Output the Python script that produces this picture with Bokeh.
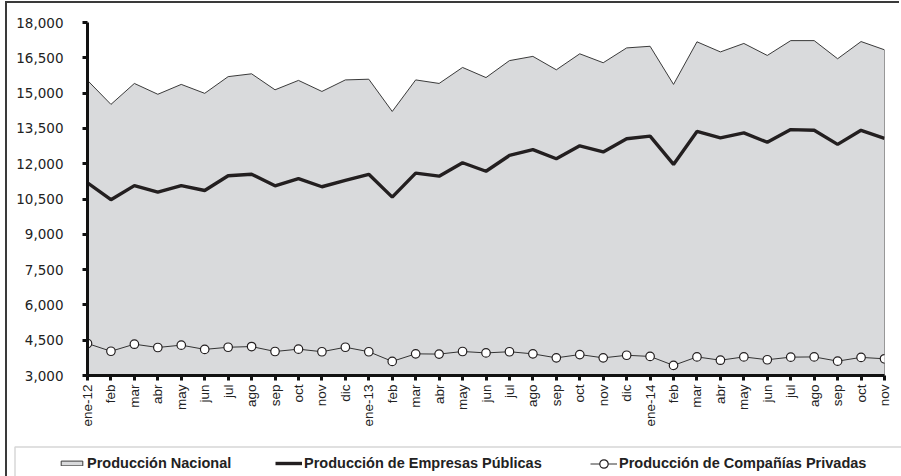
from bokeh.plotting import figure
from bokeh.models import (Range1d, FixedTicker, NumeralTickFormatter, Legend, LegendItem,
                          BoxAnnotation)
from bokeh.embed import file_html
from bokeh.resources import INLINE
import math

months = ["ene-12", "feb", "mar", "abr", "may", "jun", "jul", "ago", "sep", "oct", "nov", "dic",
          "ene-13", "feb", "mar", "abr", "may", "jun", "jul", "ago", "sep", "oct", "nov", "dic",
          "ene-14", "feb", "mar", "abr", "may", "jun", "jul", "ago", "sep", "oct", "nov"]

nacional = [15540, 14520, 15410, 14950, 15370, 14990, 15700, 15820, 15140, 15540, 15070, 15560,
            15590, 14220, 15560, 15410, 16090, 15660, 16380, 16560, 15990, 16670, 16290, 16920,
            16990, 15370, 17180, 16750, 17110, 16600, 17230, 17230, 16460, 17190, 16840]

publicas = [11190, 10470, 11070, 10790, 11070, 10860, 11490, 11550, 11060, 11370, 11020, 11290,
            11550, 10580, 11600, 11470, 12040, 11680, 12350, 12600, 12210, 12760, 12500, 13060,
            13170, 11970, 13370, 13100, 13310, 12910, 13450, 13420, 12820, 13420, 13080]

privadas = [4360, 4030, 4330, 4190, 4290, 4110, 4200, 4230, 4020, 4120, 4010, 4200,
            4010, 3600, 3920, 3910, 4020, 3960, 4010, 3920, 3750, 3890, 3750, 3860,
            3810, 3430, 3790, 3650, 3790, 3670, 3780, 3790, 3610, 3770, 3710]

y_ticks = [3000, 4500, 6000, 7500, 9000, 10500, 12000, 13500, 15000, 16500, 18000]
y_min, y_max = 3000, 18000

series_names = ["Producción Nacional", "Producción de Empresas Públicas",
                "Producción de Compañías Privadas"]

AREA_FILL = "#d9dadc"
AREA_LINE = "#3a3a3a"
PUB_COLOR = "#231f20"
PRIV_LINE = "#333333"
EDGE = "#3a3a3a"

x = list(range(len(months)))
area_x = x + [x[-1], x[0]]
area_y = nacional + [y_min, y_min]

W = 894
# ---------------- chart ----------------
p = figure(width=W, height=440, output_backend="svg", toolbar_location=None,
           x_range=Range1d(0, len(months) - 1), y_range=Range1d(y_min, y_max),
           min_border_left=80, min_border_right=17, min_border_top=19, min_border_bottom=68,
           styles={"margin-left": "7px", "margin-top": "3px",
                   "box-shadow": f"-2px -2px 0 0 {EDGE}, -2px 0 0 0 {EDGE}"})
p.outline_line_color = None
p.xgrid.visible = False
p.ygrid.visible = False
p.background_fill_color = "white"
p.border_fill_color = "white"

p.patch(area_x, area_y, fill_color=AREA_FILL, line_color=AREA_LINE, line_width=1)
p.line(x, publicas, line_color=PUB_COLOR, line_width=3.4)
p.line(x, privadas, line_color=PRIV_LINE, line_width=1)
p.scatter(x, privadas, size=8.5, marker="circle", fill_color="white",
          line_color=PUB_COLOR, line_width=1.2)

for ax in (p.xaxis[0], p.yaxis[0]):
    ax.axis_line_width = 3
    ax.axis_line_color = "#111111"
    ax.major_tick_line_width = 3
    ax.major_tick_line_color = "#111111"
    ax.major_tick_out = 5
    ax.major_tick_in = 0
    ax.minor_tick_line_color = None
    ax.major_label_text_color = "#222222"

p.yaxis.ticker = FixedTicker(ticks=y_ticks)
p.yaxis.formatter = NumeralTickFormatter(format="0,0")
p.yaxis.major_label_text_font = "DejaVu Sans"
p.yaxis.major_label_text_font_size = "13.5px"
p.yaxis.major_label_standoff = 19

p.xaxis.ticker = FixedTicker(ticks=x)
p.xaxis.major_label_overrides = {i: m for i, m in enumerate(months)}
p.xaxis.major_label_orientation = math.pi / 2
p.xaxis.major_label_text_font = "Liberation Sans"
p.xaxis.major_label_text_font_size = "13.5px"
p.xaxis.major_label_standoff = 4

# ---------------- legend strip (separate root, its frame fills it) ----------------
HB = 33
q = figure(width=W, height=HB, output_backend="svg", toolbar_location=None,
           x_range=Range1d(0, W), y_range=Range1d(HB, 0),
           x_axis_location=None, y_axis_location=None,
           min_border=0, min_border_left=0, min_border_right=0,
           min_border_top=0, min_border_bottom=0,
           styles={"margin-left": "7px", "box-shadow": f"-2px 0 0 0 {EDGE}"})
q.outline_line_color = None
q.xgrid.visible = False
q.ygrid.visible = False
q.background_fill_color = "white"
q.border_fill_color = "white"

# legend frame (only its top and left edges fall inside the strip)
q.add_layout(BoxAnnotation(left=7.5, right=5000, top=3.5, bottom=5000,
                           fill_alpha=0, line_color="#7a7a7a", line_width=1.5))

# proxies for the legend icons: same series, lying outside this strip's ranges
l_area = q.patch(area_x, area_y, fill_color=AREA_FILL, line_color=AREA_LINE, line_width=1)
l_pub = q.line(x, publicas, line_color=PUB_COLOR, line_width=3.4)
l_prl = q.line(x, privadas, line_color=PRIV_LINE, line_width=1)
l_prs = q.scatter(x, privadas, marker="circle", fill_color="white",
                  line_color=PUB_COLOR, line_width=1.2)

legend_specs = [
    (series_names[0], [l_area], 51, 6),
    (series_names[1], [l_pub], 268, 6),
    (series_names[2], [l_prl, l_prs], 583, 21),
]
TEXT_CY = 20
for name, rends, vx, gh in legend_specs:
    h = max(gh, 16)
    vy = HB - (TEXT_CY + h / 2)
    lg = Legend(items=[LegendItem(label=name, renderers=rends)],
                location=(vx, vy), orientation="horizontal",
                padding=0, margin=0, spacing=0,
                glyph_width=27, glyph_height=gh, label_height=16, label_standoff=2,
                label_text_font="Liberation Sans", label_text_font_style="bold",
                label_text_font_size="14.5px", label_text_color="#222222",
                border_line_color=None, background_fill_alpha=0)
    q.add_layout(lg, "center")

open("out.html", "w").write(file_html([p, q], INLINE))
